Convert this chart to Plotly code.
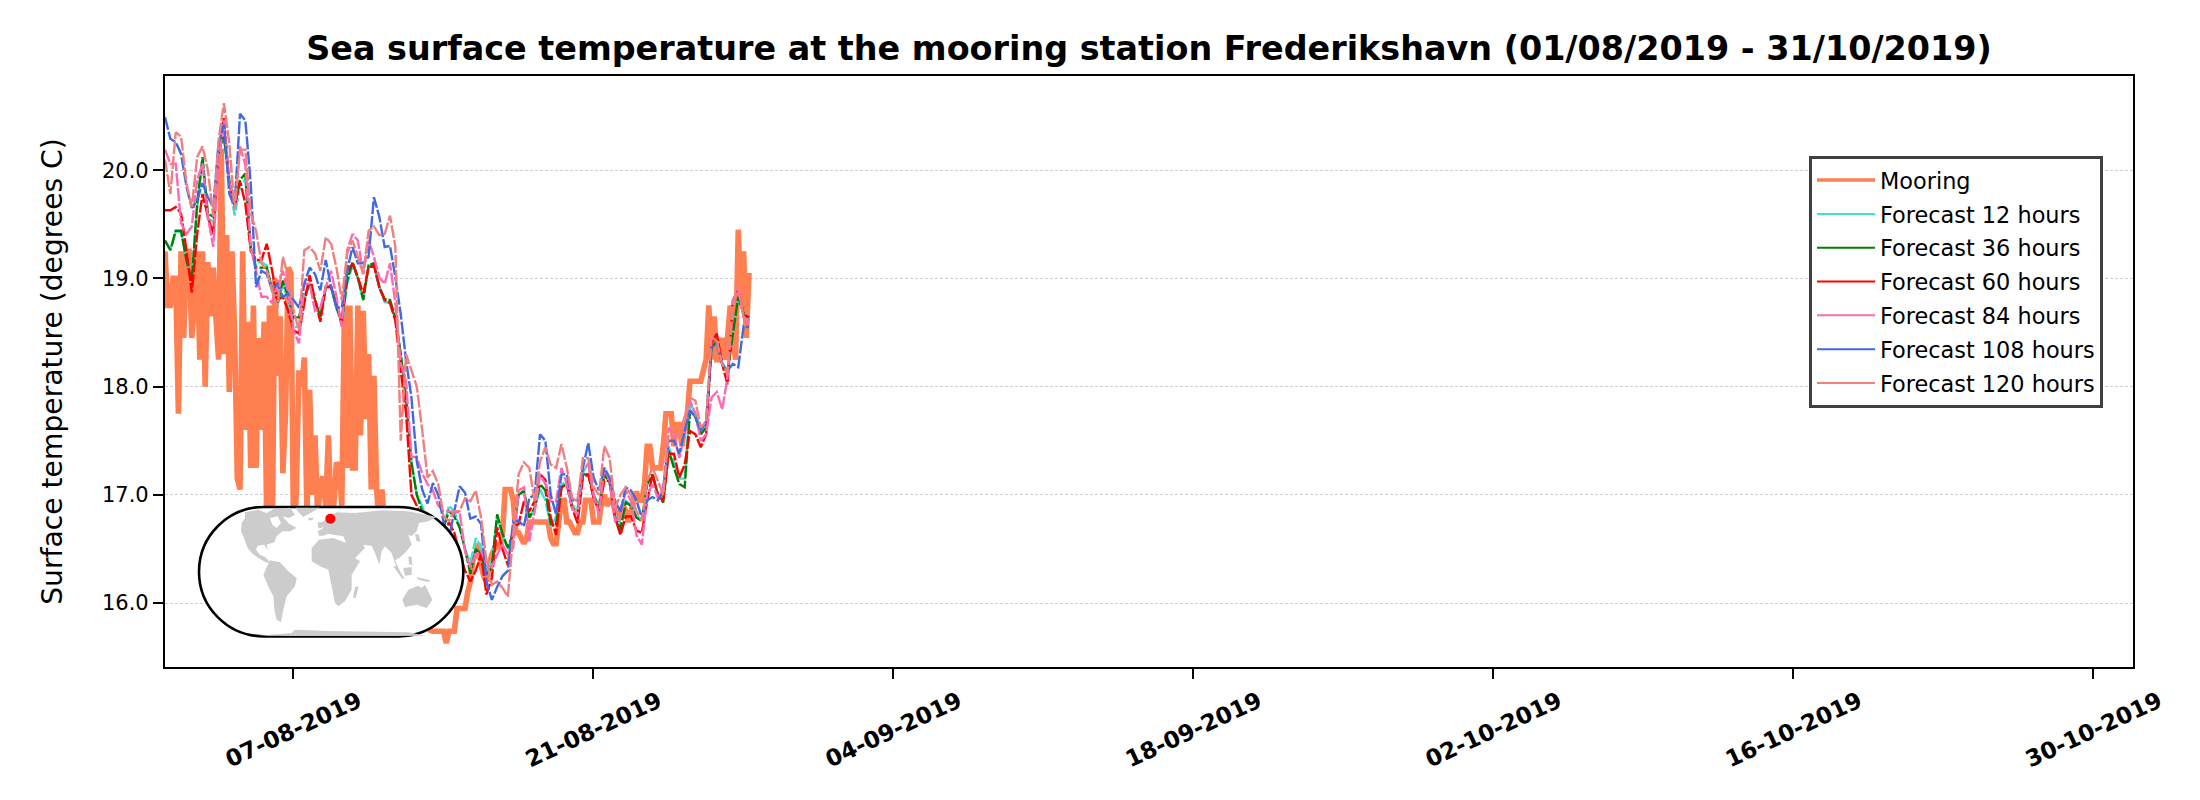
import pandas as pd
import plotly.graph_objects as go

TITLE = "Sea surface temperature at the mooring station Frederikshavn (01/08/2019 - 31/10/2019)"
Y_TITLE = "Surface temperature (degrees C)"
X_TICKS = ["2019-08-07", "2019-08-21", "2019-09-04", "2019-09-18", "2019-10-02", "2019-10-16", "2019-10-30"]
X_TICK_TEXT = ["07-08-2019", "21-08-2019", "04-09-2019", "18-09-2019", "02-10-2019", "16-10-2019", "30-10-2019"]
Y_TICKS = [16.0, 17.0, 18.0, 19.0, 20.0]

mooring = [19.25,18.75,18.75,19.0,19.0,17.75,19.25,18.45,19.25,19.25,18.45,18.75,19.25,18.25,19.25,18.0,19.15,18.65,19.1,18.65,
 18.25,20.2,18.3,19.4,17.95,19.25,18.5,17.15,17.05,19.25,17.6,18.6,17.25,18.75,17.25,18.45,17.6,18.6,16.7,18.75,
 16.5,19.0,18.1,18.65,17.2,17.75,19.1,19.05,16.6,17.0,18.15,18.0,18.27,16.8,17.97,17.0,17.55,16.8,17.1,17.17,
 16.9,17.55,16.8,16.9,17.3,17.25,16.9,18.75,17.25,18.75,17.25,17.25,18.75,17.55,18.7,17.7,18.3,17.05,18.1,17.05,
 16.7,17.05,16.7,16.5,16.3,16.2,16.2,16.2,16.2,16.2,16.0,16.0,16.0,16.0,15.9,15.9,15.9,15.8,15.8,15.75,
 15.74,15.74,15.74,15.74,15.74,15.63,15.74,15.74,15.74,15.95,15.95,15.95,15.95,16.1,16.2,16.4,16.45,16.55,16.35,16.25,
 16.2,16.35,16.45,16.5,16.55,16.5,16.65,17.05,17.05,17.05,16.95,16.65,16.65,16.6,16.55,16.6,16.75,16.75,16.75,16.75,
 16.75,16.75,16.75,16.75,16.6,16.55,16.55,16.75,16.95,16.95,16.75,16.75,16.7,16.65,16.65,16.75,16.75,16.95,16.95,16.95,
 16.75,16.75,16.75,16.95,17.0,16.9,16.95,16.95,16.85,16.75,16.85,16.9,16.85,16.75,16.85,16.95,17.03,16.95,16.95,17.1,
 17.45,17.45,17.25,17.25,17.25,17.25,17.45,17.75,17.75,17.75,17.45,17.65,17.65,17.45,17.65,17.75,18.05,18.05,18.05,18.05,
 18.05,18.15,18.25,18.75,18.25,18.65,18.25,18.25,18.45,18.25,18.45,18.75,18.45,18.25,19.45,18.75,19.25,18.45,19.05]

forecast_12 = [19.35,19.27,19.43,19.43,19.17,19.0,19.65,20.1,19.55,19.53,20.15,20.3,19.88,19.58,19.85,19.92,19.25,19.15,19.15,19.12,
 18.9,18.75,18.95,18.8,18.55,18.55,18.8,18.95,18.8,18.66,18.92,18.93,18.73,18.56,18.95,19.12,19.0,18.8,19.12,19.13,
 18.92,18.78,18.78,18.62,18.3,17.9,17.3,17.0,16.9,16.75,16.6,16.55,16.7,16.9,16.85,16.7,16.5,16.37,16.6,16.52,
 16.3,16.4,16.8,16.62,16.5,16.65,17.0,17.02,16.78,16.88,17.05,16.95,16.7,16.8,17.1,17.12,16.9,16.88,17.2,17.3,
 17.0,16.9,17.22,17.15,16.82,16.7,16.95,16.9,16.8,16.78,17.1,17.18,17.0,16.98,17.45,17.3,17.15,17.15,17.85,17.75,
 17.6,17.62,18.36,18.42,18.22,18.15,18.5,18.82,18.68,18.62]

forecast_36 = [19.35,19.26,19.44,19.44,19.17,18.98,19.69,20.12,19.6,19.57,20.19,20.31,19.91,19.69,19.91,19.97,19.29,19.1,19.1,19.1,
 18.89,18.77,18.98,18.83,18.64,18.64,18.83,18.95,18.8,18.64,18.92,18.92,18.73,18.61,18.98,19.15,19.01,18.8,19.12,19.14,
 18.92,18.81,18.8,18.64,18.3,17.9,17.3,17.0,16.85,16.7,16.6,16.55,16.7,16.85,16.8,16.7,16.5,16.27,16.5,16.45,
 16.27,16.33,16.82,16.64,16.51,16.65,17.0,17.04,16.79,16.88,17.1,17.04,16.73,16.73,17.07,17.1,16.88,16.85,17.19,17.19,
 17.0,16.88,17.19,17.11,16.79,16.68,16.93,16.9,16.79,16.76,17.1,17.19,17.0,16.93,17.41,17.25,17.1,17.07,17.78,17.72,
 17.56,17.62,18.36,18.42,18.21,18.12,18.49,18.83,18.67,18.61]

forecast_60 = [19.63,19.63,19.66,19.6,19.26,18.87,19.41,19.78,19.57,19.41,20.15,20.48,19.88,19.66,19.9,19.69,19.26,19.17,19.17,19.32,
 19.07,18.8,18.83,18.7,18.52,18.49,18.77,19.03,18.8,18.6,18.92,18.92,18.77,18.58,19.07,19.14,19.01,18.86,19.1,19.12,
 18.92,18.8,18.77,18.61,18.15,17.75,17.0,16.9,16.8,16.7,16.5,16.5,16.6,16.75,16.65,16.45,16.3,16.2,16.3,16.45,
 16.08,16.23,16.7,16.5,16.35,16.71,16.73,16.94,16.85,16.94,17.19,17.14,16.79,16.63,17.07,17.1,16.88,16.74,17.16,17.19,
 16.97,16.85,17.13,17.13,16.79,16.63,16.8,16.8,16.67,16.65,16.94,17.19,17.0,16.94,17.38,17.38,17.16,17.28,17.59,17.56,
 17.44,17.56,18.4,18.49,18.21,18.02,18.8,18.89,18.67,18.64]

forecast_84 = [20.19,20.06,20.06,19.51,19.41,19.48,19.91,20.06,19.57,19.29,20.09,20.46,19.88,19.72,20.22,20.05,19.29,19.07,18.83,18.83,
 18.77,18.95,19.07,18.86,18.52,18.4,18.95,18.95,18.7,18.73,18.92,19.07,18.83,18.55,19.26,19.41,19.35,19.04,19.35,19.2,
 19.01,18.95,19.14,18.77,18.21,18.05,17.35,17.35,17.2,17.1,17.04,16.9,16.85,16.85,16.84,16.84,16.48,16.33,16.45,16.48,
 16.36,16.33,16.45,16.54,16.45,16.51,17.04,17.07,16.57,16.85,17.19,17.1,16.94,16.94,17.25,17.1,16.88,16.82,17.25,17.28,
 17.0,16.82,17.25,17.13,16.76,16.79,17.04,16.94,16.63,16.54,17.0,17.1,16.97,17.07,17.62,17.56,17.34,17.56,17.87,17.75,
 17.5,17.56,17.9,17.95,17.79,18.09,18.76,18.92,18.64,18.58]

forecast_108 = [20.49,20.29,20.26,20.15,19.85,19.65,19.72,19.88,19.75,19.66,20.25,20.42,19.78,19.66,20.52,20.46,19.88,18.92,19.07,19.04,
 18.89,18.95,18.83,18.86,18.8,18.73,18.95,19.1,19.04,18.89,19.17,18.92,18.73,18.73,19.07,19.29,19.14,19.14,19.2,19.75,
 19.57,19.29,19.3,19.01,18.67,18.24,17.9,17.31,17.05,16.92,17.11,17.0,16.75,16.6,16.85,17.08,17.02,16.78,16.8,16.73,
 16.2,16.03,16.15,16.25,16.3,16.76,16.76,16.71,16.97,17.0,17.56,17.5,17.0,16.82,17.19,17.19,16.95,16.95,17.25,17.48,
 17.16,17.04,17.25,17.16,16.95,16.84,17.07,17.04,16.95,16.79,16.95,16.98,16.95,17.04,17.5,17.5,17.38,17.59,17.78,17.72,
 17.59,17.68,18.36,18.4,18.21,18.15,18.21,18.18,18.56,18.55]

forecast_120 = [20.1,19.78,20.35,20.31,19.88,19.66,20.12,20.22,20.0,19.57,20.28,20.62,20.25,19.63,20.19,20.19,19.6,19.44,19.14,19.07,
 18.89,18.73,19.2,19.01,18.7,18.52,19.26,19.29,19.23,19.07,19.38,19.32,19.1,18.8,19.23,19.35,19.2,19.04,19.44,19.48,
 19.4,19.41,19.58,19.29,17.5,18.3,18.15,18.0,17.6,17.16,17.22,17.1,16.8,16.76,16.85,16.85,16.97,16.94,17.04,16.79,
 16.39,16.17,16.2,16.14,16.06,16.64,17.19,17.3,17.25,16.94,17.31,17.44,17.28,17.25,17.47,17.25,16.97,16.94,17.34,17.34,
 17.07,17.0,17.45,17.34,16.88,17.0,17.07,17.0,16.85,16.76,17.13,17.25,17.13,17.0,17.56,17.56,17.56,17.72,17.9,17.87,
 17.62,17.68,18.46,18.42,18.21,18.12,18.8,18.9,18.64,18.61]

SERIES_NAMES = ["Forecast 12 hours", "Forecast 36 hours", "Forecast 60 hours", "Forecast 84 hours", "Forecast 108 hours", "Forecast 120 hours"]
SERIES_COLORS = ["#40E0D0", "#008000", "#FF0000", "#FF69B4", "#4169E1", "#F08080"]
SERIES_VALUES = [forecast_12, forecast_36, forecast_60, forecast_84, forecast_108, forecast_120]

# inset world map, outlines in the inset's own map units
land_north_america = ([138,140,150,150,190,215,235,285,300,282,262,282,305,285,262,245,238,215,218,208,188,183,195,210,228,212,190,170,158,150,145],
                      [85,60,45,28,20,30,18,14,35,45,40,62,75,85,85,100,118,125,142,125,128,140,155,162,180,178,165,150,135,115,100])
land_greenland = ([302,375,350,325,312], [14,14,28,42,30])
land_south_america = ([205,225,255,280,305,300,275,265,258,245,238,235,222], [215,172,178,205,225,250,280,320,358,350,320,280,255])
land_africa = ([350,372,415,455,480,495,470,470,450,430,420,410,400,375,350], [135,110,105,120,165,175,215,260,295,310,300,255,200,190,175])
land_eurasia = ([368,385,378,395,425,480,560,640,725,700,672,665,650,640,650,630,612,600,615,608,590,570,560,553,540,530,505,510,475,455,445,415,400,385,372],
                [85,75,60,47,28,30,22,25,42,55,60,85,100,95,125,150,165,172,205,205,150,130,145,185,150,128,125,135,170,125,100,95,92,98,98])
land_australia = ([622,640,670,680,690,712,695,665,630], [290,260,248,255,245,290,315,305,312])
land_sumatra = ([595,605,628,622], [190,190,225,228])
land_borneo = ([625,650,650,630], [195,192,215,218])
land_new_guinea = ([665,705,702,670], [222,232,238,230])
land_philippines = ([640,650,652,642], [160,162,186,184])
land_japan = ([660,672,676,664], [92,95,116,114])
land_madagascar = ([480,491,482,474], [252,250,285,284])
land_uk = ([368,381,382,370], [58,58,75,76])
land_iceland = ([340,356,352,340], [44,44,52,52])
land_antarctica = ([190,290,300,400,640,692,600,300], [398,390,380,384,388,398,399,399])
LAND = [land_north_america, land_greenland, land_south_america, land_africa, land_eurasia, land_australia, land_sumatra,
        land_borneo, land_new_guinea, land_philippines, land_japan, land_madagascar, land_uk, land_iceland, land_antarctica]
water_hudson_bay = ([225,248,258,245,232], [45,40,60,75,65])
station_x = [406]
station_y = [47]

START = "2019-08-01 01:00"
END = "2019-10-31 21:00"
t_mooring = pd.date_range(START, periods=len(mooring), freq="3h")
t_forecast = pd.date_range(START, periods=len(forecast_12), freq="6h")

W, H = 2200, 800
L, R, T, B = 165, 2133, 76, 667

fig = go.Figure()
fig.add_trace(go.Scatter(x=t_mooring, y=mooring, mode="lines", name="Mooring", showlegend=False,
                         line=dict(color="#FF7F50", width=5.6, simplify=False)))
for name, color, values in zip(SERIES_NAMES, SERIES_COLORS, SERIES_VALUES):
    fig.add_trace(go.Scatter(x=t_forecast, y=values, mode="lines", showlegend=False,
                             line=dict(color=color, width=2.4, dash="13px,2px", simplify=False), name=name))
fig.add_trace(go.Scatter(x=[None], y=[None], mode="lines", name="Mooring", legendgroup="Mooring",
                         line=dict(color="#FF7F50", width=3.6)))
for name, color in zip(SERIES_NAMES, SERIES_COLORS):
    fig.add_trace(go.Scatter(x=[None], y=[None], mode="lines", name=name, legendgroup=name,
                             line=dict(color=color, width=2)))

for xs, ys in LAND:
    fig.add_trace(go.Scatter(x=xs, y=ys, mode="lines", fill="toself", fillcolor="#CCCCCC", line=dict(width=0),
                             xaxis="x2", yaxis="y2", showlegend=False, hoverinfo="skip"))
fig.add_trace(go.Scatter(x=water_hudson_bay[0], y=water_hudson_bay[1], mode="lines", fill="toself", fillcolor="white",
                         line=dict(width=0), xaxis="x2", yaxis="y2", showlegend=False, hoverinfo="skip"))
fig.add_trace(go.Scatter(x=station_x, y=station_y, mode="markers", marker=dict(color="#FF0000", size=10),
                         xaxis="x2", yaxis="y2", showlegend=False, hoverinfo="skip"))

axis_common = dict(showline=True, linecolor="black", linewidth=2.2, mirror=True, ticks="outside", ticklen=10,
                   tickwidth=2, tickcolor="black")
fig.update_layout(
    width=W, height=H, autosize=False,
    margin=dict(l=L, r=W - R, t=T, b=H - B, pad=0),
    paper_bgcolor="white", plot_bgcolor="rgba(0,0,0,0)",
    font=dict(family="DejaVu Sans", color="black"),
    title=dict(text="<b>" + TITLE + "</b>", font=dict(size=33.4, family="DejaVu Sans", color="black"),
               x=(L + R) / 2 / W, xanchor="center", y=1 - 48 / H, yanchor="middle"),
    xaxis=dict(range=[START, END], type="date", tickvals=X_TICKS, ticktext=X_TICK_TEXT, tickangle=-25,
               tickfont=dict(size=23, family="DejaVu Sans", weight="bold"), showgrid=False, zeroline=False,
               ticklabelshift=66, **axis_common),
    yaxis=dict(range=[15.41, 20.87], tickvals=Y_TICKS, ticktext=[f"{v:.1f}" for v in Y_TICKS], tickfont=dict(size=21),
               title=dict(text=Y_TITLE, font=dict(size=28.2), standoff=31),
               showgrid=True, gridcolor="#CFCFCF", griddash="3px,2px", gridwidth=1, zeroline=False, **axis_common),
    xaxis2=dict(domain=[(195 - L) / (R - L), (465 - L) / (R - L)], range=[0, 810], visible=False, fixedrange=True, anchor="y2"),
    yaxis2=dict(domain=[(B - 641) / (B - T), (B - 503) / (B - T)], range=[414, 0], visible=False, fixedrange=True, anchor="x2"),
    legend=dict(x=(1809 - L) / (R - L), y=(B - 156) / (B - T), xanchor="left", yanchor="top",
                bgcolor="white", bordercolor="#3F3F3F", borderwidth=3,
                font=dict(size=22.4), tracegroupgap=1.7, itemwidth=58, traceorder="grouped"),
    shapes=[dict(type="path", xref="x2", yref="y2", layer="below", fillcolor="white",
                 line=dict(color="black", width=2.6),
                 path="M 206 12 L 611 12 C 718 12 805 99 805 206 C 805 313 718 400 611 400 L 206 400 "
                      "C 99 400 12 313 12 206 C 12 99 99 12 206 12 Z")],
)
fig.write_html("out.html", post_script="document.body.style.margin='0';", config=dict(displayModeBar=False))
